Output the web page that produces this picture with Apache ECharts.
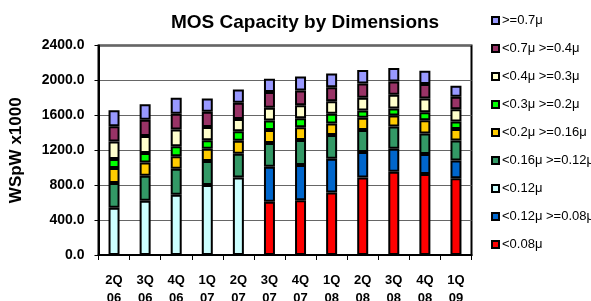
<!DOCTYPE html>
<html><head><meta charset="utf-8">
<script src="https://cdn.jsdelivr.net/npm/echarts@6/dist/echarts.min.js"></script>
<style>html,body{margin:0;padding:0;background:#fff}#c{width:591px;height:301px}</style>
</head><body><div id="c"></div>
<script>
const categories = ['2Q\n06','3Q\n06','4Q\n06','1Q\n07','2Q\n07','3Q\n07','4Q\n07','1Q\n08','2Q\n08','3Q\n08','4Q\n08','1Q\n09'];
const yTicks = [0, 400, 800, 1200, 1600, 2000, 2400];
const lt008      = [null,null,null,null,null, 609,628,716,889,954,927,880];
const lt012ge008 = [null,null,null,null,null, 402,403,387,291,264,230,202];
const lt012      = [540,621,690,801,889, null,null,null,null,null,null,null];
const lt016ge012 = [284,287,298,276,272, 272,287,272,253,253,234,229];
const lt02ge016  = [172,153,142,141,149, 150,145,131,138,127,153,133];
const lt03ge02   = [103,107,115,96,107, 107,104,111,84,80,92,84];
const lt04ge03   = [200,196,192,153,142, 146,149,145,146,157,157,141];
const lt07ge04   = [176,184,180,173,184, 180,169,161,164,153,165,145];
const ge07       = [184,180,184,153,153, 153,161,157,154,154,153,125];

const seriesDefs = [
  ['<0.08μ', lt008, '#FF0000'],
  ['<0.12μ >=0.08μ', lt012ge008, '#0066CC'],
  ['<0.12μ', lt012, '#CCFFFF'],
  ['<0.16μ >=0.12μ', lt016ge012, '#339966'],
  ['<0.2μ >=0.16μ', lt02ge016, '#FFCC00'],
  ['<0.3μ >=0.2μ', lt03ge02, '#00FF00'],
  ['<0.4μ >=0.3μ', lt04ge03, '#FFFFCC'],
  ['<0.7μ >=0.4μ', lt07ge04, '#993366'],
  ['>=0.7μ', ge07, '#9999FF']
];
const font = 'Arial, "Liberation Sans", sans-serif';
const chart = echarts.init(document.getElementById('c'), null, {renderer:'canvas'});
chart.setOption({
  animation:false,
  title:{text:'MOS Capacity by Dimensions', left:166, top:8,
    textStyle:{fontFamily:font, fontWeight:'bold', fontSize:19, color:'#000'}},
  legend:{orient:'vertical', left:486, top:9, itemWidth:7, itemHeight:7, itemGap:15,
    icon:'rect',
    data: seriesDefs.map(s=>s[0]).reverse(),
    textStyle:{fontFamily:font, fontSize:13, color:'#000', padding:[0,0,0,-2]}},
  grid:{left:98.5, right:119.5, top:45.5, bottom:46, show:true, borderColor:'#000', borderWidth:2,
    outerBoundsMode:'none', containLabel:false},
  xAxis:{type:'category', data:categories,
    axisLine:{lineStyle:{color:'#000', width:2}},
    axisTick:{show:true, length:5, lineStyle:{color:'#000'}},
    axisLabel:{fontFamily:font, fontWeight:'bold', fontSize:13, color:'#000', lineHeight:18, margin:16}},
  yAxis:{type:'value', min:yTicks[0], max:yTicks[yTicks.length-1], interval:400,
    name:'WSpW x1000', nameLocation:'middle', nameGap:74, nameRotate:90,
    nameTextStyle:{fontFamily:font, fontWeight:'bold', fontSize:17, color:'#000'},
    axisLine:{show:true, lineStyle:{color:'#000', width:2}},
    axisTick:{show:true, length:4, lineStyle:{color:'#000'}},
    splitLine:{lineStyle:{color:'#666', width:1}},
    axisLabel:{fontFamily:font, fontWeight:'bold', fontSize:14, color:'#000', margin:14,
      formatter:v=>v.toFixed(1)}},
  series: seriesDefs.map(([name,data,color])=>({
    name, type:'bar', stack:'a', data, barWidth:11,
    itemStyle:{color, borderColor:'#000', borderWidth:2}
  }))
});
</script></body></html>
